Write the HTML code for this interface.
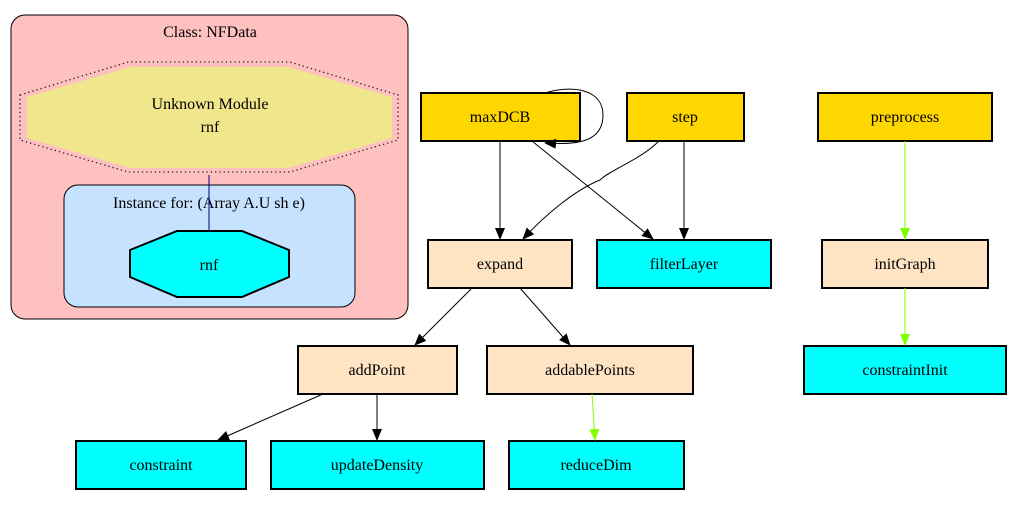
<!DOCTYPE html>
<html><head><style>body{margin:0;background:#fff}svg{display:block}text{font-family:"Liberation Serif",serif;font-size:16px;text-anchor:middle}</style></head><body>
<svg width="1024" height="512" viewBox="0 0 1024 512">
<defs>
<marker id="a" markerWidth="12" markerHeight="10" refX="11" refY="5" orient="auto" markerUnits="userSpaceOnUse"><path d="M0,0L12,5L0,10z" fill="#000"/></marker>
<marker id="g" markerWidth="12" markerHeight="10" refX="11" refY="5" orient="auto" markerUnits="userSpaceOnUse"><path d="M0,0L12,5L0,10z" fill="#7fff00"/></marker>
</defs>
<rect x="11" y="15" width="397" height="304" rx="14" fill="#ffc0c0" stroke="#000"/>
<text x="210" y="37">Class: NFData</text>
<polygon points="20,95 128,62 290,62 398,95 398,140 290,172 128,172 20,140" fill="none" stroke="#222" stroke-width="1.3" stroke-dasharray="1.3,3"/>
<polygon points="27,97 130,67 288,67 392,97 392,138 288,168 130,168 27,138" fill="#f0e68c"/>
<text x="210" y="109">Unknown Module</text>
<text x="210" y="132">rnf</text>
<rect x="64" y="185" width="291" height="122" rx="14" fill="#c6e2ff" stroke="#000"/>
<text x="209" y="208">Instance for: (Array A.U sh e)</text>
<line x1="209" y1="175" x2="209" y2="231" stroke="#000080"/>
<polygon points="177,231 242,231 289,250 289,277 242,297 177,297 130,277 130,250" fill="#00ffff" stroke="#000" stroke-width="2"/>
<text x="209" y="270">rnf</text>

<g stroke="#000" stroke-width="2">
<rect x="421" y="93" width="159" height="48" fill="#ffd700"/>
<rect x="627" y="93" width="117" height="48" fill="#ffd700"/>
<rect x="818" y="93" width="174" height="48" fill="#ffd700"/>
<rect x="428" y="240" width="144" height="48" fill="#ffe4c4"/>
<rect x="597" y="240" width="174" height="48" fill="#00ffff"/>
<rect x="822" y="240" width="166" height="48" fill="#ffe4c4"/>
<rect x="298" y="346" width="159" height="48" fill="#ffe4c4"/>
<rect x="487" y="346" width="206" height="48" fill="#ffe4c4"/>
<rect x="804" y="346" width="202" height="48" fill="#00ffff"/>
<rect x="76" y="441" width="170" height="48" fill="#00ffff"/>
<rect x="271" y="441" width="213" height="48" fill="#00ffff"/>
<rect x="509" y="441" width="175" height="48" fill="#00ffff"/>
</g>
<text x="500" y="122">maxDCB</text>
<text x="685" y="122">step</text>
<text x="905" y="122">preprocess</text>
<text x="500" y="269">expand</text>
<text x="684" y="269">filterLayer</text>
<text x="905" y="269">initGraph</text>
<text x="377" y="375">addPoint</text>
<text x="590" y="375">addablePoints</text>
<text x="905" y="375">constraintInit</text>
<text x="161" y="470">constraint</text>
<text x="377" y="470">updateDensity</text>
<text x="596" y="470">reduceDim</text>

<g fill="none" stroke="#000" stroke-width="1">
<path d="M545,93 C570,85 603,88 603,115 C603,143 575,145 545,143" marker-end="url(#a)"/>
<path d="M500,141 L500,239" marker-end="url(#a)"/>
<path d="M532,141 L653,239" marker-end="url(#a)"/>
<path d="M659,141 C640,160 610,170 600,180 C575,190 545,215 523,239" marker-end="url(#a)"/>
<path d="M684,141 L684,239" marker-end="url(#a)"/>
<path d="M472,288 L415,345" marker-end="url(#a)"/>
<path d="M520,288 L570,345" marker-end="url(#a)"/>
<path d="M323,394 L218,440" marker-end="url(#a)"/>
<path d="M377,394 L377,440" marker-end="url(#a)"/>
</g>
<g fill="none" stroke="#7fff00">
<path d="M905,141 L905,239" marker-end="url(#g)"/>
<path d="M905,288 L905,345" marker-end="url(#g)"/>
<path d="M592,394 L595,440" marker-end="url(#g)"/>
</g>
</svg>
</body></html>
